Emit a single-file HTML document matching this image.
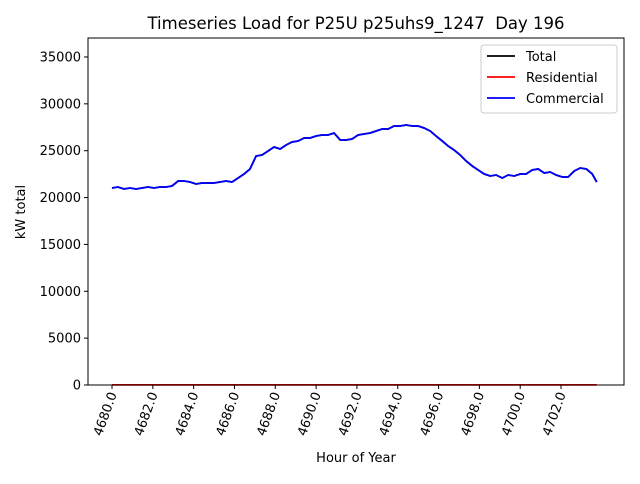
<!DOCTYPE html>
<html><head><meta charset="utf-8"><style>
body{margin:0;background:#fff;font-family:"DejaVu Sans","Liberation Sans",sans-serif}
</style></head><body>
<svg id="c" width="640" height="480" xmlns="http://www.w3.org/2000/svg" font-family="DejaVu Sans, Liberation Sans, sans-serif"></svg>
<script>
const hours=[0,.29,.59,.88,1.18,1.47,1.76,2.06,2.35,2.65,2.94,3.24,3.53,3.82,4.12,4.41,4.71,5.0,5.29,5.59,5.88,6.18,6.47,6.76,7.06,7.35,7.65,7.94,8.24,8.53,8.82,9.12,9.41,9.71,10.0,10.29,10.59,10.88,11.18,11.47,11.76,12.06,12.35,12.65,12.94,13.24,13.53,13.82,14.12,14.41,14.71,15.0,15.29,15.59,15.88,16.18,16.47,16.76,17.06,17.35,17.65,17.94,18.24,18.53,18.82,19.12,19.41,19.71,20.0,20.29,20.59,20.88,21.18,21.47,21.76,22.06,22.35,22.65,22.94,23.24,23.53,23.75];
const commercial=[21020,21127,20913,21020,20913,21020,21127,21020,21127,21127,21233,21767,21767,21660,21447,21553,21553,21553,21660,21767,21660,22087,22514,23047,24434,24541,24968,25395,25181,25608,25928,26035,26355,26355,26568,26675,26675,26888,26141,26141,26248,26675,26782,26888,27102,27315,27315,27635,27635,27742,27635,27635,27422,27102,26568,26035,25501,25074,24541,23901,23367,22941,22514,22300,22407,22087,22407,22300,22514,22514,22941,23047,22621,22727,22407,22194,22194,22834,23154,23047,22514,21660];
const residential=[10,10];
const resHours=[0,23.75];
const yTicks=[0,5000,10000,15000,20000,25000,30000,35000];
const xTicks=[4680,4682,4684,4686,4688,4690,4692,4694,4696,4698,4700,4702];
const total=commercial.map((v,i)=>v+0);
const svg=document.getElementById('c');const NS='http://www.w3.org/2000/svg';
const L=88,R=624,T=38,B=385;
const X=h=>112+(h-4680)/2*40.82;
const Y=v=>B-v/5000*46.86;
function el(t,a,p){const e=document.createElementNS(NS,t);for(const k in a)e.setAttribute(k,a[k]);(p||svg).appendChild(e);return e;}
let t=el('text',{x:356,y:29,'text-anchor':'middle','font-size':16.5});t.textContent='Timeseries Load for P25U p25uhs9_1247\u00a0\u00a0Day 196';

function line(xs,ys,c,name){const p=el('polyline',{points:xs.map((h,i)=>X(4680+h)+','+Y(ys[i])).join(' '),fill:'none',stroke:c,'stroke-width':1.8});
}
line(hours,total,'#000','total-line');
line(resHours,residential,'#f00','residential-line');
line(hours,commercial,'#00f','commercial-line');
let fr=el('rect',{x:L,y:T,width:R-L,height:B-T,fill:'none',stroke:'#000','stroke-width':1});

yTicks.forEach(v=>{const y=Y(v);el('line',{x1:L-4,x2:L,y1:y,y2:y,stroke:'#000'});
const tx=el('text',{x:L-7,y:y+4.5,'text-anchor':'end','font-size':13});tx.textContent=v;
});
xTicks.forEach(v=>{const x=X(v);el('line',{x1:x,x2:x,y1:B,y2:B+4,stroke:'#000'});
const tx=el('text',{x:0,y:0,'text-anchor':'end','font-size':13,transform:`translate(${x+5},${B+9}) rotate(-70)`});tx.textContent=v.toFixed(1);
});
t=el('text',{x:356,y:462,'text-anchor':'middle','font-size':13});t.textContent='Hour of Year';

t=el('text',{x:0,y:0,'text-anchor':'middle','font-size':13,transform:'translate(25,212) rotate(-90)'});t.textContent='kW total';

const lg=el('g',{});
el('rect',{x:481,y:45,width:136,height:68,rx:3,fill:'#fff',stroke:'#ccc'},lg);
[['Total','#000'],['Residential','#f00'],['Commercial','#00f']].forEach((d,i)=>{const y=56+i*21;
el('line',{x1:487,x2:515,y1:y,y2:y,stroke:d[1],'stroke-width':1.8},lg);
const tx=el('text',{x:526,y:y+5,'font-size':13},lg);tx.textContent=d[0];
});
</script></body></html>
